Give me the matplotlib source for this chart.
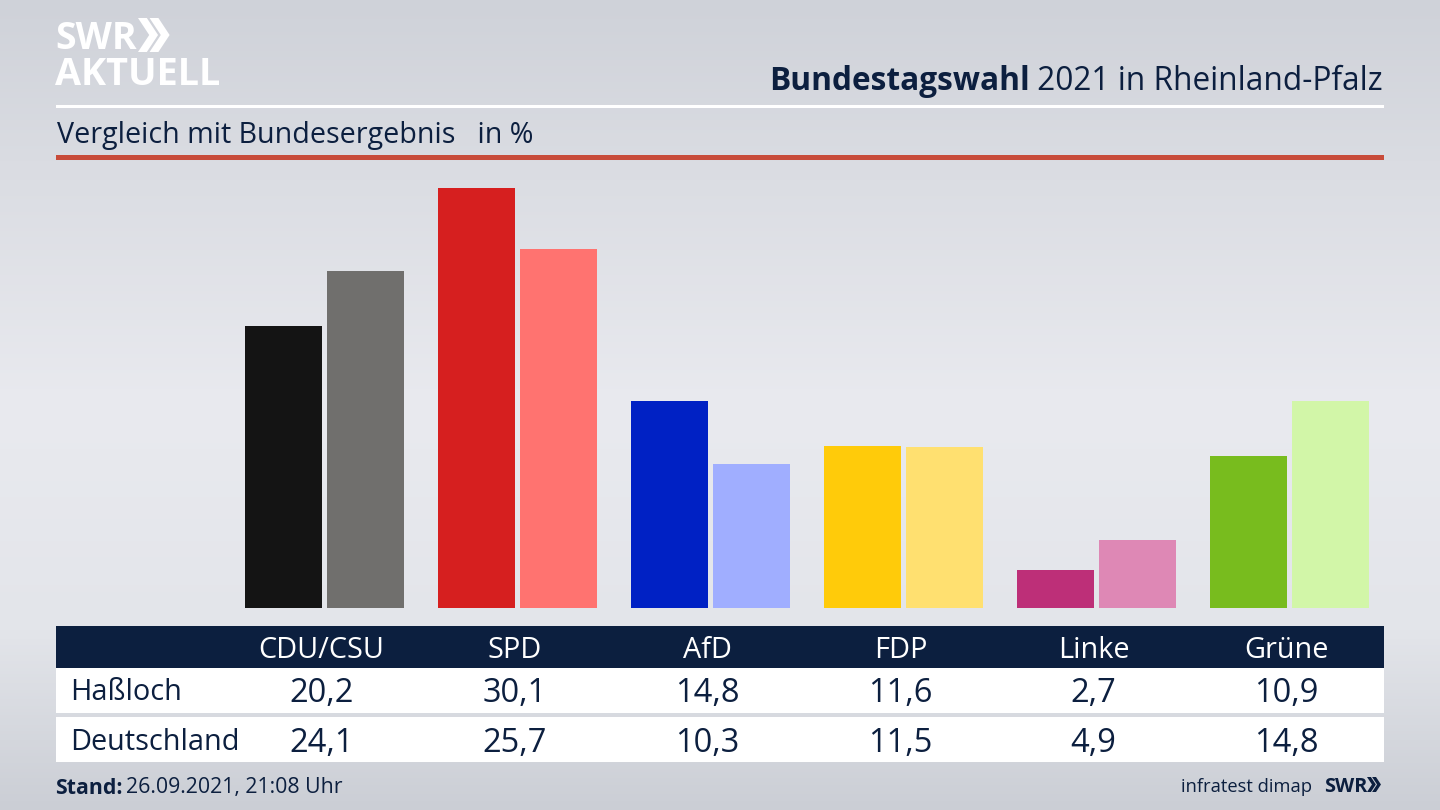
### ------------------------------ Imports ------------------------------ ###

import numpy as np
import matplotlib
matplotlib.use("Agg")
import matplotlib.pyplot as plt
from matplotlib.patches import Polygon, Rectangle
from matplotlib.colors import LinearSegmentedColormap

### ------------------------------ Data ------------------------------ ###

parties = ["CDU/CSU", "SPD", "AfD", "FDP", "Linke", "Grüne"]
row_names = ["Haßloch", "Deutschland"]
hassloch = [20.2, 30.1, 14.8, 11.6, 2.7, 10.9]
deutschland = [24.1, 25.7, 10.3, 11.5, 4.9, 14.8]
colors_hassloch = ["#141414", "#d61f1f", "#0021c4", "#ffcb0a", "#bd2f78", "#78bc1e"]
colors_deutschland = ["#706f6d", "#ff7370", "#a0aeff", "#ffe070", "#de88b5", "#d2f6a8"]

NAVY = "#0c1f3f"
plt.rcParams["font.family"] = ["Open Sans", "DejaVu Sans"]

### ------------------------------ Figure + Background ------------------------------ ###

fig = plt.figure(figsize=(14.4, 8.1), dpi=100)

bg = fig.add_axes([0, 0, 1, 1], zorder=0)
bg.axis("off")
bg_cmap = LinearSegmentedColormap.from_list("bg", [
    (0.0, "#cfd2d9"), (0.2, "#dadce2"), (0.5, "#e9eaef"),
    (0.78, "#e3e5ea"), (1.0, "#cbced5")])
bg.imshow(np.linspace(0, 1, 256).reshape(-1, 1), cmap=bg_cmap, aspect="auto", vmin=0, vmax=1)

### ------------------------------ Bars ------------------------------ ###

# one party step is 193 px, one percent is 13.97 px, baseline sits at y=608
step = 193.0
per_unit = 13.97
ax = fig.add_axes([0, 0, 1, 1], zorder=1)
ax.patch.set_alpha(0)
ax.axis("off")
ax.set_xlim(-324.5 / step, (1440 - 324.5) / step)
ax.set_ylim(-(810 - 608) / per_unit, 608 / per_unit)

x = np.arange(len(parties))
offset = 41 / step
width = 77 / step
ax.bar(x - offset, hassloch, width=width, color=colors_hassloch)
ax.bar(x + offset, deutschland, width=width, color=colors_deutschland)

### ------------------------------ Overlay in pixel coords ------------------------------ ###

ov = fig.add_axes([0, 0, 1, 1], zorder=2)
ov.patch.set_alpha(0)
ov.axis("off")
ov.set_xlim(0, 1440)
ov.set_ylim(810, 0)

# header rules
ov.add_patch(Rectangle((56, 104.5), 1328, 3, color="white", lw=0))
ov.add_patch(Rectangle((56, 155), 1328, 5, color="#c84b3a", lw=0))

# logo
ov.text(55, 39, "SWR", color="white", fontsize=27, fontweight="bold", va="center", ha="left")
ov.text(55, 75, "AKTUELL", color="white", fontsize=27.2, fontweight="bold", va="center", ha="left")


def chevrons(x0, y0, h, color):
    w = h * 0.33
    t = h * 0.26
    for dx in (0, t + h * 0.08):
        ov.add_patch(Polygon([(x0 + dx, y0), (x0 + dx + t, y0), (x0 + dx + t + w, y0 + h / 2),
                              (x0 + dx + t, y0 + h), (x0 + dx, y0 + h), (x0 + dx + w, y0 + h / 2)],
                             closed=True, color=color, lw=0))


chevrons(138, 18, 34, "white")

# title, right aligned, bold part placed against the regular part
fig.canvas.draw()
rend = fig.canvas.get_renderer()
t_reg = ov.text(1383, 81, " 2021 in Rheinland-Pfalz", color=NAVY, fontsize=22.8, ha="right", va="center")
bbox = t_reg.get_window_extent(rend)
ov.text(bbox.x0, 81, "Bundestagswahl", color=NAVY, fontsize=22.8, fontweight="bold", ha="right", va="center")

ov.text(57, 135, "Vergleich mit Bundesergebnis   in %", color=NAVY, fontsize=20.6, ha="left", va="center")

# table
ov.add_patch(Rectangle((56, 626), 1328, 42, color=NAVY, lw=0))
ov.add_patch(Rectangle((56, 668), 1328, 45, color="white", lw=0))
ov.add_patch(Rectangle((56, 717), 1328, 45, color="white", lw=0))

centers = [324.5 + step * i - 3 for i in range(len(parties))]
for cx, name, a, b in zip(centers, parties, hassloch, deutschland):
    ov.text(cx, 650, name, color="white", fontsize=20.8, ha="center", va="center")
    ov.text(cx, 694, f"{a:.1f}".replace(".", ","), color=NAVY, fontsize=23.5, ha="center", va="center")
    ov.text(cx, 743, f"{b:.1f}".replace(".", ","), color=NAVY, fontsize=23.5, ha="center", va="center")

ov.text(70, 693, row_names[0], color=NAVY, fontsize=20.8, ha="left", va="center")
ov.text(70, 742, row_names[1], color=NAVY, fontsize=20.8, ha="left", va="center")

# footer
t_stand = ov.text(55.5, 788, "Stand:", color=NAVY, fontsize=15.3, fontweight="bold", ha="left", va="center")
sb = t_stand.get_window_extent(rend)
ov.text(sb.x1 + 3, 788, "26.09.2021, 21:08 Uhr", color=NAVY, fontsize=15.3, ha="left", va="center")

ov.text(1312, 787, "infratest dimap", color=NAVY, fontsize=13.2, ha="right", va="center")
ov.text(1324, 787, "SWR", color=NAVY, fontsize=14.3, fontweight="bold", ha="left", va="center")
chevrons(1367, 777, 15, NAVY)

fig.savefig("out.png", dpi=100)
